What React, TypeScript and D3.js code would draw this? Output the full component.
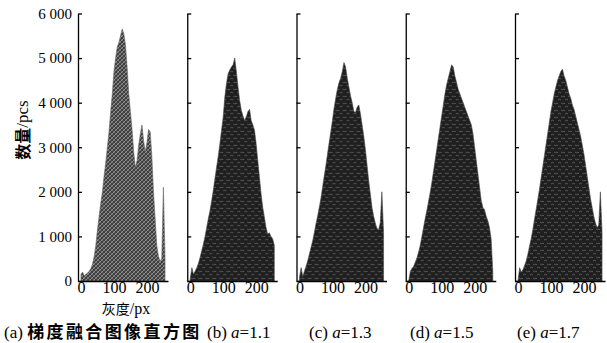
import React, { useEffect, useRef } from 'react'
import * as d3 from 'd3'

// grey level bins (every 5th level of 0..255)
const grayLevels = d3.range(0, 256, 5)

// pixel counts
const countsA = [150, 200, 120, 150, 180, 220, 280, 380, 550, 800, 1150, 1450, 1750, 2000, 2350, 2650, 3000, 3350, 3800, 4200, 4700, 5000, 5250, 5350, 5500, 5650, 5550, 5300, 4800, 4200, 3800, 3400, 2900, 2550, 2700, 3050, 3300, 3500, 3150, 2900, 3100, 3400, 3350, 2800, 2000, 1400, 800, 550, 450, 500, 2100, 550]
const countsB = [50, 300, 150, 220, 300, 400, 530, 680, 830, 1000, 1200, 1400, 1580, 1800, 2030, 2300, 2550, 2800, 3080, 3380, 3680, 4130, 4430, 4650, 4730, 4800, 4850, 5000, 4700, 4350, 4050, 3830, 3700, 3600, 3680, 3800, 3850, 3600, 3500, 3380, 3080, 2700, 2330, 1950, 1650, 1430, 1200, 1050, 1080, 1000, 950, 800]
const countsC = [80, 300, 100, 220, 330, 450, 600, 750, 900, 1080, 1280, 1450, 1650, 1850, 2100, 2350, 2580, 2850, 3100, 3350, 3600, 3880, 4100, 4300, 4450, 4550, 4700, 4900, 4800, 4550, 4350, 4150, 4000, 3800, 3780, 3900, 3950, 3750, 3500, 3250, 2950, 2600, 2250, 1950, 1650, 1450, 1300, 1180, 1150, 1300, 2000, 1100]
const countsD = [0, 220, 280, 330, 420, 520, 650, 800, 1000, 1200, 1400, 1580, 1780, 1980, 2200, 2450, 2700, 2950, 3200, 3450, 3700, 3950, 4200, 4400, 4550, 4700, 4850, 4800, 4600, 4450, 4300, 4200, 4100, 4000, 3900, 3800, 3700, 3600, 3500, 3300, 3000, 2700, 2400, 2100, 1800, 1650, 1600, 1450, 1350, 1200, 950, 200]
const countsE = [0, 300, 200, 250, 350, 450, 600, 780, 950, 1150, 1380, 1600, 1820, 2050, 2300, 2550, 2800, 3050, 3300, 3550, 3800, 4000, 4200, 4350, 4500, 4600, 4700, 4750, 4600, 4500, 4350, 4200, 4100, 3950, 3850, 3700, 3550, 3400, 3250, 3050, 2850, 2600, 2350, 2100, 1850, 1650, 1450, 1300, 1200, 1250, 2000, 1100]

const alphaValues = ['1.1', '1.3', '1.5', '1.7']
const panelLetters = ['a', 'b', 'c', 'd', 'e']
const yTicks = [0, 1000, 2000, 3000, 4000, 5000, 6000]
const xTicks = [0, 100, 200]

const serif = "'Liberation Serif', 'Times New Roman', serif"
const cjk = "'Noto Sans CJK SC', sans-serif"

export default function App() {
  const svgRef = useRef<SVGSVGElement>(null)

  useEffect(() => {
    if (!svgRef.current) return
    const svg = d3.select(svgRef.current)
    svg.selectAll('*').remove()

    const panelW = 90
    const firstX = 78
    const step = 109.25
    const series = [countsA, countsB, countsC, countsD, countsE]

    const x = d3.scaleLinear().domain([-9, 264]).range([0, panelW])
    const y = d3.scaleLinear().domain([0, 6000]).range([281, 13.5])

    const defs = svg.append('defs')
    const patA = defs.append('pattern')
      .attr('id', 'hatchA')
      .attr('patternUnits', 'userSpaceOnUse')
      .attr('width', 4)
      .attr('height', 4)
    patA.append('rect').attr('width', 4).attr('height', 4).attr('fill', '#3e3e3e')
    patA.append('path').attr('d', 'M0,4 L4,0').attr('stroke', '#a0a0a0').attr('stroke-width', 0.8)
    patA.append('path').attr('d', 'M0,0 L4,4').attr('stroke', '#8a8a8a').attr('stroke-width', 0.6)

    const patB = defs.append('pattern')
      .attr('id', 'hatchB')
      .attr('patternUnits', 'userSpaceOnUse')
      .attr('width', 7)
      .attr('height', 7)
    patB.append('rect').attr('width', 7).attr('height', 7).attr('fill', '#1f1f1f')
    patB.append('path')
      .attr('d', 'M1,2 q1.5,-1.5 3,0 M4,5 q1.5,1.5 3,0 M0,6 l1,-1')
      .attr('fill', 'none')
      .attr('stroke', '#737373')
      .attr('stroke-width', 0.7)

    const area = d3.area<number>()
      .x((d, i) => x(grayLevels[i]))
      .y0(y(0))
      .y1((d) => y(d))

    series.forEach((counts, i) => {
      const g = svg.append('g').attr('transform', `translate(${firstX + i * step},0)`)

      g.append('path')
        .datum(counts)
        .attr('d', area)
        .attr('fill', i === 0 ? 'url(#hatchA)' : 'url(#hatchB)')
        .attr('stroke', i === 0 ? '#666' : '#444')
        .attr('stroke-width', 0.6)

      const yAxis = g.append('g')
        .call(
          d3.axisLeft(y)
            .tickValues(yTicks)
            .tickSizeInner(-4)
            .tickSizeOuter(0)
            .tickPadding(6)
            .tickFormat((d) => (i === 0 ? d3.format(',')(d as number).replace(',', ' ') : ''))
        )
      yAxis.selectAll('text')
        .style('font-family', serif)
        .style('font-size', '15px')
        .style('fill', '#000')

      const xAxis = g.append('g')
        .attr('transform', `translate(0,${y(0)})`)
        .call(d3.axisBottom(x).tickValues(xTicks).tickSize(0).tickPadding(1))
      xAxis.selectAll('text')
        .style('font-family', serif)
        .style('font-size', '16px')
        .style('fill', '#000')

      g.selectAll('.domain, .tick line')
        .style('stroke', '#000')
        .style('stroke-width', 1.3)
    })

    // y axis title
    const yTitle = svg.append('text')
      .attr('transform', 'translate(22,130) rotate(-90)')
      .attr('text-anchor', 'middle')
      .attr('dominant-baseline', 'central')
      .attr('fill', '#000')
    yTitle.append('tspan').attr('font-family', cjk).attr('font-weight', 'bold').attr('font-size', 16).text('数量')
    yTitle.append('tspan').attr('font-family', serif).attr('font-size', 17).text('/pcs')

    // x axis title under panel (a)
    const xTitle = svg.append('text')
      .attr('x', firstX + panelW / 2 + 3)
      .attr('y', 314)
      .attr('text-anchor', 'middle')
      .attr('font-family', serif)
      .attr('font-size', 16)
      .attr('fill', '#000')
    xTitle.append('tspan').attr('font-family', cjk).attr('font-size', 14).text('灰度')
    xTitle.append('tspan').text('/px')

    // captions
    const capA = svg.append('text')
      .attr('x', 4)
      .attr('y', 338)
      .attr('font-family', serif)
      .attr('font-size', 17)
      .attr('fill', '#000')
    capA.append('tspan').text(`(${panelLetters[0]}) `)
    capA.append('tspan')
      .attr('font-family', cjk)
      .attr('font-weight', 'bold')
      .attr('font-size', 17)
      .attr('letter-spacing', 2.4)
      .text('梯度融合图像直方图')

    const capStarts = [207, 309, 410, 517]
    alphaValues.forEach((a, i) => {
      const t = svg.append('text')
        .attr('x', capStarts[i])
        .attr('y', 338)
        .attr('font-family', serif)
        .attr('font-size', 17)
        .attr('fill', '#000')
      t.append('tspan').text(`(${panelLetters[i + 1]}) `)
      t.append('tspan').attr('font-style', 'italic').text('a')
      t.append('tspan').text(`=${a}`)
    })
  }, [])

  return (
    <div style={{ position: 'absolute', left: 0, top: 0, background: '#fff' }}>
      <svg ref={svgRef} width={607} height={343} style={{ display: 'block' }} />
    </div>
  )
}
